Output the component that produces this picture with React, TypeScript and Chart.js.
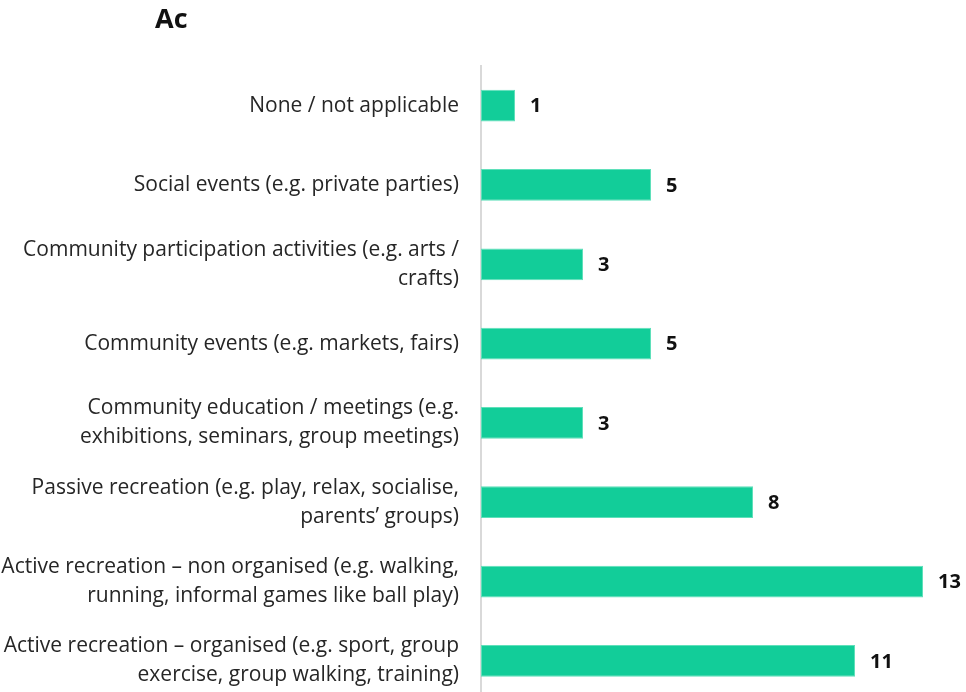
import React, { useEffect, useRef } from "react";
import { Chart, registerables } from "chart.js";

Chart.register(...registerables);

const titleText = "Ac";
const categories: string[][] = [
  ["None / not applicable"],
  ["Social events (e.g. private parties)"],
  ["Community participation activities (e.g. arts /", "crafts)"],
  ["Community events (e.g. markets, fairs)"],
  ["Community education / meetings (e.g.", "exhibitions, seminars, group meetings)"],
  ["Passive recreation (e.g. play, relax, socialise,", "parents’ groups)"],
  ["Active recreation – non organised (e.g. walking,", "running, informal games like ball play)"],
  ["Active recreation – organised (e.g. sport, group", "exercise, group walking, training)"],
];
const values: number[] = [1, 5, 3, 5, 3, 8, 13, 11];
const xMin = 0;
const xMax = 14;

const FONT = "'Open Sans', sans-serif";

const valueLabels = {
  id: "valueLabels",
  afterDatasetsDraw(chart: any) {
    const ctx = chart.ctx;
    const meta = chart.getDatasetMeta(0);
    ctx.save();
    ctx.font = `bold 20px ${FONT}`;
    ctx.fillStyle = "#111111";
    ctx.textAlign = "left";
    ctx.textBaseline = "middle";
    meta.data.forEach((bar: any, i: number) => {
      ctx.fillText(String(values[i]), bar.x + 15, bar.y + 1);
    });
    ctx.restore();
  },
};

export default function App() {
  const ref = useRef<HTMLCanvasElement | null>(null);
  useEffect(() => {
    if (!ref.current) return;
    const chart = new Chart(ref.current, {
      type: "bar",
      data: {
        labels: categories,
        datasets: [
          {
            data: values,
            backgroundColor: "#12CD99",
            borderColor: "#5FE0BA",
            borderWidth: 1,
            borderSkipped: false,
            categoryPercentage: 1,
            barPercentage: 0.4,
          },
        ],
      },
      options: {
        indexAxis: "y",
        animation: false,
        responsive: false,
        maintainAspectRatio: false,
        layout: { padding: { top: 66, right: 9, bottom: 0, left: 0 } },
        plugins: {
          legend: { display: false },
          tooltip: { enabled: false },
          title: { display: false },
        },
        scales: {
          x: {
            display: false,
            min: xMin,
            max: xMax,
          },
          y: {
            afterFit(scale: any) {
              scale.width = 481;
            },
            grid: { display: false },
            border: { display: true, color: "#D9D9D9", width: 2 },
            ticks: {
              padding: 14,
              color: "#262626",
              font: { family: FONT, size: 21, lineHeight: 1.38 },
            },
          },
        },
      },
      plugins: [valueLabels],
    });
    return () => chart.destroy();
  }, []);
  return (
    <div style={{ position: "absolute", left: 0, top: 0, width: 966, height: 729 }}>
      <canvas ref={ref} width={966} height={729} style={{ display: "block" }} />
      <div
        style={{
          position: "absolute",
          left: 155,
          top: -1,
          fontFamily: FONT,
          fontWeight: 700,
          fontSize: 27,
          color: "#111",
        }}
      >
        {titleText}
      </div>
    </div>
  );
}
